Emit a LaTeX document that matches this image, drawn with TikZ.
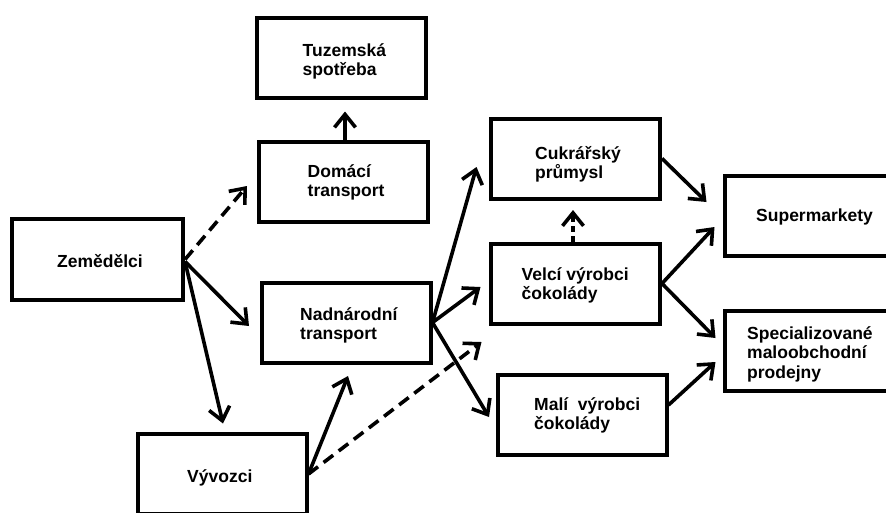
\documentclass[tikz,border=0pt]{standalone}
\usepackage{fontspec}
\setmainfont{Liberation Sans}
\usetikzlibrary{arrows.meta}
\tikzset{
  box/.style={draw=black, line width=4pt, minimum width=169pt, minimum height=80pt, inner sep=0pt},
  lbl/.style={anchor=north west, inner sep=0pt, align=left, font=\fontsize{17.5}{19.5}\selectfont\bfseries},
  arr/.style={line width=3.6pt, -{Straight Barb[length=13pt,width=21pt]}},
  dsh/.style={dash pattern=on 12pt off 7pt},
  dotline/.style={dash pattern=on 6pt off 4pt}
}
\newcommand{\fl}{\rule{0pt}{15pt}}
\begin{document}
\begin{tikzpicture}[x=1pt,y=-1pt]
\useasboundingbox (0,0) rectangle (886,512);
\clip (0,0) rectangle (886,512);
\fill[white] (0,0) rectangle (886,512);
% boxes
\node[box] (tuz) at (341.5,58) {};
\node[box] (dom) at (343,182) {};
\node[box, minimum width=171pt, minimum height=81pt] (zem) at (97.5,259.5) {};
\node[box] (nad) at (346,322.5) {};
\node[box] (vyv) at (222,474) {};
\node[box] (cuk) at (575.5,158.5) {};
\node[box] (vel) at (575.5,283.5) {};
\node[box] (mal) at (582,415) {};
\node[box] (sup) at (809.5,215.5) {};
\node[box] (spe) at (809.5,350.5) {};
% texts
\node[lbl] (tuzT) at (302.5,41) {\fl Tuzemská\\spotřeba};
\node[lbl] (domT) at (307.5,162) {\fl Domácí\\transport};
\node[lbl] (zemT) at (57,252) {\fl Zemědělci};
\node[lbl] (nadT) at (300,305) {\fl Nadnárodní\\transport};
\node[lbl] (vyvT) at (187,467) {\fl Vývozci};
\node[lbl] (cukT) at (535,144) {\fl Cukrářský\\průmysl};
\node[lbl] (velT) at (521.5,265) {\fl Velcí výrobci\\čokolády};
\node[lbl] (supT) at (756,206) {\fl Supermarkety};
\node[lbl] (malT) at (534,395) {\fl Malí\ \ výrobci\\čokolády};
\node[lbl] (speT) at (747,324) {\fl Specializované\\maloobchodní\\prodejny};
% connectors
\draw[arr,dsh] (zem.east) -- ([shift={(-9.5,4)}]dom.west);
\draw[arr] ([xshift=2pt]dom.north) -- ([shift={(3.5,11.5)}]tuz.south);
\draw[arr] ([shift={(0,2)}]zem.east) -- ([shift={(-10.5,3.5)}]nad.west);
\draw[arr] ([shift={(0,2)}]zem.east) -- ([shift={(1,-8.5)}]vyv.north);
\draw[arr] (vyv.east) -- ([shift={(2,11.5)}]nad.south);
\draw[arr,dsh] (vyv.east) -- ([shift={(-7.5,16.5)}]vel.south west);
\draw[arr] (nad.east) -- ([shift={(-12.5,8.5)}]cuk.west);
\draw[arr] (nad.east) -- ([shift={(-8.5,3.5)}]vel.west);
\draw[arr] (nad.east) -- ([shift={(-6.5,2)}]mal.west);
\draw[arr,dotline] ([xshift=-2.5pt]vel.north) -- ([shift={(-2.5,9.5)}]cuk.south);
\draw[arr] (cuk.east) -- ([shift={(-16.5,-13.5)}]sup.west);
\draw[arr] (vel.east) -- ([shift={(-8.5,11.5)}]sup.west);
\draw[arr] (vel.east) -- ([shift={(-7.5,-12.5)}]spe.west);
\draw[arr] ([shift={(0,-10)}]mal.east) -- ([shift={(-7.5,11.5)}]spe.west);
\end{tikzpicture}
\end{document}
